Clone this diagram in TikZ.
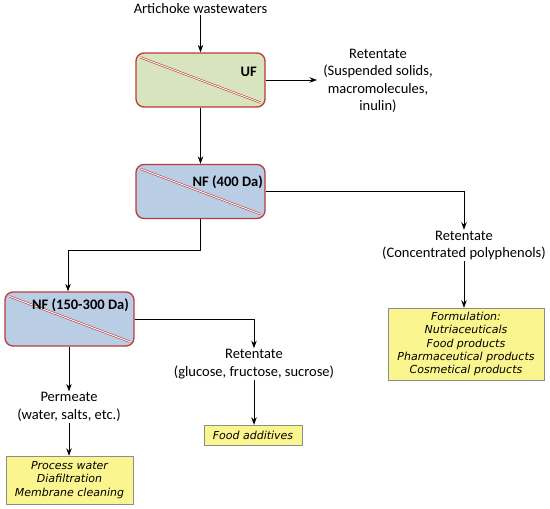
\documentclass[tikz,border=0pt]{standalone}
\usepackage{fontspec}
\setmainfont{Carlito}
\newfontfamily\verdfont{DejaVu Sans}
\usepackage{tikz}
\usetikzlibrary{arrows.meta, positioning}
\definecolor{MemRed}{HTML}{B83C3A}
\definecolor{UFGreen}{HTML}{D7E4BD}
\definecolor{NFBlue}{HTML}{B9CDE5}
\definecolor{UseYellow}{HTML}{FAF58F}
\definecolor{UseGray}{HTML}{8C8C8C}

\begin{document}
\begin{tikzpicture}[x=1pt, y=-1pt, >={Stealth[length=7.5pt, width=5.5pt]},
      unit/.style={draw=MemRed, line width=1.3pt, rounded corners=8pt,
                   minimum width=129pt, minimum height=54pt, inner sep=0pt},
      membrane/.style={draw=MemRed, double=white, double distance=0.9pt, line width=0.6pt},
      tag/.style={font=\fontsize{14.5}{17}\selectfont\bfseries, inner sep=0pt},
      flow/.style={font=\fontsize{14.5}{17.5}\selectfont, align=center, inner sep=1pt},
      use/.style={draw=UseGray, fill=UseYellow, align=center, inner sep=2pt,
                  font=\verdfont\itshape\fontsize{11}{13.3}\selectfont},
      link/.style={->, line width=0.8pt}]
      \useasboundingbox (0,0) rectangle (550,509);

      % Feed
      \node[flow] (feed) at (200.5,9) {Artichoke wastewaters};

      % Membrane units
      \node[unit, fill=UFGreen] (uf)  at (200.5,80)  {};
      \node[unit, fill=NFBlue]  (nf1) at (200.5,191.5) {};
      \node[unit, fill=NFBlue]  (nf2) at (69.5,319)  {};
      \draw[membrane] ([shift={(5pt,-5pt)}]uf.north west) -- ([shift={(-5pt,5pt)}]uf.south east);
      \draw[membrane] ([shift={(5pt,-5pt)}]nf1.north west) -- ([shift={(-5pt,5pt)}]nf1.south east);
      \draw[membrane] ([shift={(5pt,-5pt)}]nf2.north west) -- ([shift={(-5pt,5pt)}]nf2.south east);
      \node[tag, anchor=east] (uflab)  at (257,72)  {UF};
      \node[tag, anchor=east] (nf1lab) at (263,182) {NF (400 Da)};
      \node[tag, anchor=east] (nf2lab) at (129,305) {NF (150-300 Da)};

      % Streams
      \node[flow] (ret1) at (378,81)    {Retentate\\(Suspended solids,\\macromolecules,\\inulin)};
      \node[flow] (ret2) at (464,245.5) {Retentate\\(Concentrated polyphenols)};
      \node[flow] (ret3) at (254,364)   {Retentate\\(glucose, fructose, sucrose)};
      \node[flow] (perm) at (69,407)    {Permeate\\(water, salts, etc.)};
      \coordinate (split) at (68,250);
      \coordinate (ufout) at (317,80);

      % Uses
      \node[use, minimum width=156pt, minimum height=72pt] (form) at (466,344)
           {Formulation:\\Nutriaceuticals\\Food products\\Pharmaceutical products\\Cosmetical products};
      \node[use, minimum width=98pt, minimum height=20pt] (food) at (253,435) {Food additives};
      \node[use, minimum width=127pt, minimum height=48pt] (water) at (69.5,480)
           {Process water\\Diafiltration\\Membrane cleaning};

      % Arrows
      \draw[link] (feed) -- (uf);
      \draw[link] (uf) -- (ufout);
      \draw[link] (uf) -- (nf1);
      \draw[link] (nf1.east) -| (ret2.north);
      \draw[link] (nf1.south) |- (split) -- (nf2.north -| split);
      \draw[link] (nf2.east) -| (ret3.north);
      \draw[link] (nf2.south -| perm) -- (perm);
      \draw[link] (ret2) -- (form.north -| ret2);
      \draw[link] (ret3) -- (food.north -| ret3);
      \draw[link] (perm) -- (water.north -| perm);
    \end{tikzpicture}
\end{document}
